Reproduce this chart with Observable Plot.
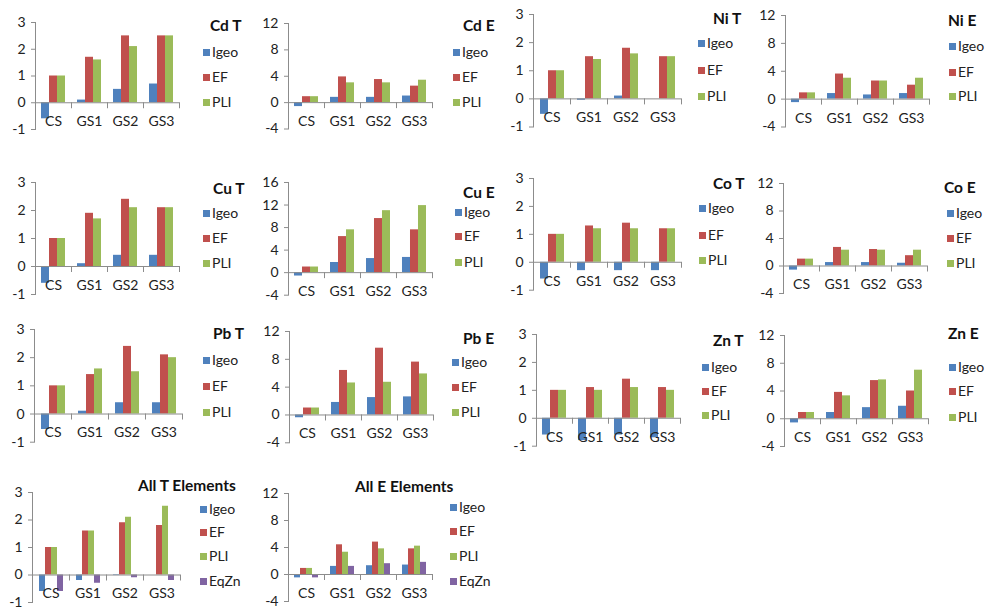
<!DOCTYPE html>
<html>
<head>
<meta charset="utf-8">
<script src="https://cdn.jsdelivr.net/npm/d3@7"></script>
<script src="https://cdn.jsdelivr.net/npm/@observablehq/plot@0.6"></script>
<style>
  html, body { margin: 0; padding: 0; background: #fff; }
  #root { position: relative; width: 985px; height: 610px; overflow: hidden; font-family: Lato, "Open Sans", sans-serif; color: #222; }
  .pan { position: absolute; }
  .title { position: absolute; font-weight: bold; font-size: 15.5px; line-height: 18px; white-space: nowrap; color: #111; }
  .leg { position: absolute; font-size: 14px; line-height: 16px; white-space: nowrap; color: #222; }
  .sw { position: absolute; width: 7px; height: 7px; }
</style>
</head>
<body>
<div id="root"></div>
<script>
// ---- data ----
const categories = ["CS", "GS1", "GS2", "GS3"];
const seriesTE = ["Igeo", "EF", "PLI"];
const seriesAll = ["Igeo", "EF", "PLI", "EqZn"];
const seriesColors = ["#4F81BD", "#C0504D", "#9BBB59", "#8064A2"];
const ticksT = [-1, 0, 1, 2, 3];
const ticksE = [-4, 0, 4, 8, 12];
const ticksCuE = [-4, 0, 4, 8, 12, 16];

const cdT = {Igeo: [-0.6, 0.1, 0.5, 0.7], EF: [1.0, 1.7, 2.5, 2.5], PLI: [1.0, 1.6, 2.1, 2.5]};
const cdE = {Igeo: [-0.6, 0.8, 0.8, 1.0], EF: [0.9, 3.9, 3.5, 2.5], PLI: [0.9, 3.0, 3.0, 3.4]};
const niT = {Igeo: [-0.55, -0.05, 0.1, 0.0], EF: [1.0, 1.5, 1.8, 1.5], PLI: [1.0, 1.4, 1.6, 1.5]};
const niE = {Igeo: [-0.5, 0.8, 0.6, 0.8], EF: [0.9, 3.6, 2.6, 2.0], PLI: [0.9, 3.0, 2.6, 3.0]};
const cuT = {Igeo: [-0.6, 0.1, 0.4, 0.4], EF: [1.0, 1.9, 2.4, 2.1], PLI: [1.0, 1.7, 2.1, 2.1]};
const cuE = {Igeo: [-0.6, 1.8, 2.5, 2.7], EF: [1.0, 6.4, 9.6, 7.6], PLI: [1.0, 7.6, 11.0, 11.9]};
const coT = {Igeo: [-0.6, -0.3, -0.3, -0.3], EF: [1.0, 1.3, 1.4, 1.2], PLI: [1.0, 1.2, 1.2, 1.2]};
const coE = {Igeo: [-0.6, 0.5, 0.5, 0.4], EF: [1.0, 2.7, 2.4, 1.5], PLI: [1.0, 2.3, 2.3, 2.3]};
const pbT = {Igeo: [-0.55, 0.1, 0.4, 0.4], EF: [1.0, 1.4, 2.4, 2.1], PLI: [1.0, 1.6, 1.5, 2.0]};
const pbE = {Igeo: [-0.4, 1.8, 2.5, 2.6], EF: [1.0, 6.4, 9.6, 7.6], PLI: [1.0, 4.6, 4.7, 5.9]};
const znT = {Igeo: [-0.6, -0.8, -0.6, -0.7], EF: [1.0, 1.1, 1.4, 1.1], PLI: [1.0, 1.0, 1.1, 1.0]};
const znE = {Igeo: [-0.6, 0.9, 1.6, 1.8], EF: [0.9, 3.8, 5.5, 4.0], PLI: [0.9, 3.3, 5.6, 7.0]};
const allT = {Igeo: [-0.6, -0.2, -0.02, 0.0], EF: [1.0, 1.6, 1.9, 1.8], PLI: [1.0, 1.6, 2.1, 2.5], EqZn: [-0.6, -0.3, -0.1, -0.2]};
const allE = {Igeo: [-0.5, 1.2, 1.3, 1.4], EF: [0.9, 4.4, 4.8, 3.8], PLI: [0.9, 3.3, 3.8, 4.2], EqZn: [-0.5, 1.2, 1.6, 1.8]};

// ---- layout (pixel placement of each panel) ----
const panels = [
  {title: "Cd T", data: cdT, series: seriesTE, ticks: ticksT, ax: 33, xEnd: 180, yTop: 21.5, yBot: 128.5, tX: 210, tY: 25, lX: 203, lY: [52, 77, 102]},
  {title: "Cd E", data: cdE, series: seriesTE, ticks: ticksE, ax: 288, xEnd: 432, yTop: 23, yBot: 128.5, tX: 463, tY: 25, lX: 453, lY: [52, 77, 102]},
  {title: "Ni T", data: niT, series: seriesTE, ticks: ticksT, ax: 532, xEnd: 682, yTop: 13.5, yBot: 126, tX: 713, tY: 18, lX: 698, lY: [43, 70, 96]},
  {title: "Ni E", data: niE, series: seriesTE, ticks: ticksE, ax: 784, xEnd: 929, yTop: 15, yBot: 126.5, tX: 948, tY: 20, lX: 949, lY: [46, 72, 96]},
  {title: "Cu T", data: cuT, series: seriesTE, ticks: ticksT, ax: 33, xEnd: 180, yTop: 182.3, yBot: 294.3, tX: 213, tY: 188, lX: 203, lY: [213, 238, 263]},
  {title: "Cu E", data: cuE, series: seriesTE, ticks: ticksCuE, ax: 288, xEnd: 432, yTop: 182.3, yBot: 295, tX: 463, tY: 192, lX: 455, lY: [212, 236, 262]},
  {title: "Co T", data: coT, series: seriesTE, ticks: ticksT, ax: 532, xEnd: 682, yTop: 178.3, yBot: 290, tX: 713, tY: 183, lX: 699, lY: [208, 235, 260]},
  {title: "Co E", data: coE, series: seriesTE, ticks: ticksE, ax: 783, xEnd: 927, yTop: 183.3, yBot: 293.3, tX: 944, tY: 187, lX: 947, lY: [213, 238, 263]},
  {title: "Pb T", data: pbT, series: seriesTE, ticks: ticksT, ax: 33, xEnd: 182, yTop: 329, yBot: 441.7, tX: 213, tY: 333, lX: 203, lY: [360, 386, 412]},
  {title: "Pb E", data: pbE, series: seriesTE, ticks: ticksE, ax: 289, xEnd: 433, yTop: 331, yBot: 442.3, tX: 463, tY: 338, lX: 452, lY: [362, 387, 412]},
  {title: "Zn T", data: znT, series: seriesTE, ticks: ticksT, ax: 534, xEnd: 681, yTop: 334, yBot: 445.7, tX: 713, tY: 340, lX: 702, lY: [367, 391, 415]},
  {title: "Zn E", data: znE, series: seriesTE, ticks: ticksE, ax: 784, xEnd: 928, yTop: 335, yBot: 446, tX: 948, tY: 333, lX: 949, lY: [367, 391, 417]},
  {title: "All T Elements", data: allT, series: seriesAll, ticks: ticksT, ax: 32, xEnd: 180, yTop: 492, yBot: 602, tX: 138, tY: 485, lX: 200, lY: [509, 532, 556, 581]},
  {title: "All E Elements", data: allE, series: seriesAll, ticks: ticksE, ax: 288, xEnd: 432, yTop: 493, yBot: 601, tX: 355, tY: 486, lX: 450, lY: [507, 531, 556, 581]}
];

const root = document.getElementById("root");
const ML = 30, MT = 4, MB = 4, TICK = 5;
const axisGray = "#8c8c8c";

for (const p of panels) {
  const rows = [];
  for (const s of p.series) categories.forEach((c, i) => rows.push({cat: c, series: s, value: p.data[s][i]}));
  const width = (p.xEnd - p.ax) + ML;
  const height = (p.yBot - p.yTop) + MT + MB;
  const innerH = height - MT - MB;
  const yDomain = [p.ticks[0], p.ticks[p.ticks.length - 1]];
  // pixel offset of the zero line inside the frame (used only to place the category tick marks)
  const zeroOff = d3.scaleLinear().domain(yDomain).range([innerH, 0])(0);
  const tickInsets = {insetTop: zeroOff, insetBottom: Math.max(0, innerH - zeroOff - TICK)};
  const chart = Plot.plot({
    width, height,
    marginLeft: ML, marginRight: 0, marginTop: MT, marginBottom: MB,
    style: {fontFamily: "Lato, 'Open Sans', sans-serif", fontSize: "14px", color: "#222", background: "transparent", overflow: "visible"},
    fx: {domain: categories, padding: 0, axis: null},
    x: {domain: p.series, paddingInner: 0, paddingOuter: 0.75, axis: null},
    y: {domain: yDomain, axis: null},
    color: {domain: seriesAll, range: seriesColors},
    marks: [
      Plot.barY(rows, {fx: "cat", x: "series", y: "value", fill: "series"}),
      Plot.ruleY([0], {stroke: axisGray, strokeWidth: 1}),
      Plot.frame({anchor: "left", facetAnchor: "left", stroke: axisGray}),
      Plot.frame({anchor: "left", stroke: axisGray, ...tickInsets}),
      Plot.frame({anchor: "right", facetAnchor: "right", stroke: axisGray, ...tickInsets}),
      Plot.axisY(p.ticks, {label: null, tickSize: 4, tickPadding: 6, stroke: axisGray, fill: "#222", tickFormat: d => String(d)}),
      Plot.text(categories, {fx: d => d, text: d => d, y: 0, dy: 19, fill: "#222"})
    ]
  });
  chart.classList.add("pan");
  chart.style.left = (p.ax - ML) + "px";
  chart.style.top = (p.yTop - MT) + "px";
  root.appendChild(chart);

  const t = document.createElement("div");
  t.className = "title";
  t.textContent = p.title;
  t.style.left = p.tX + "px";
  t.style.top = (p.tY - 9) + "px";
  root.appendChild(t);

  p.series.forEach((s, i) => {
    const sw = document.createElement("div");
    sw.className = "sw";
    sw.style.background = seriesColors[seriesAll.indexOf(s)];
    sw.style.left = p.lX + "px";
    sw.style.top = (p.lY[i] - 3.5) + "px";
    root.appendChild(sw);
    const lab = document.createElement("div");
    lab.className = "leg";
    lab.textContent = s;
    lab.style.left = (p.lX + 9) + "px";
    lab.style.top = (p.lY[i] - 8) + "px";
    root.appendChild(lab);
  });
}
</script>
</body>
</html>
